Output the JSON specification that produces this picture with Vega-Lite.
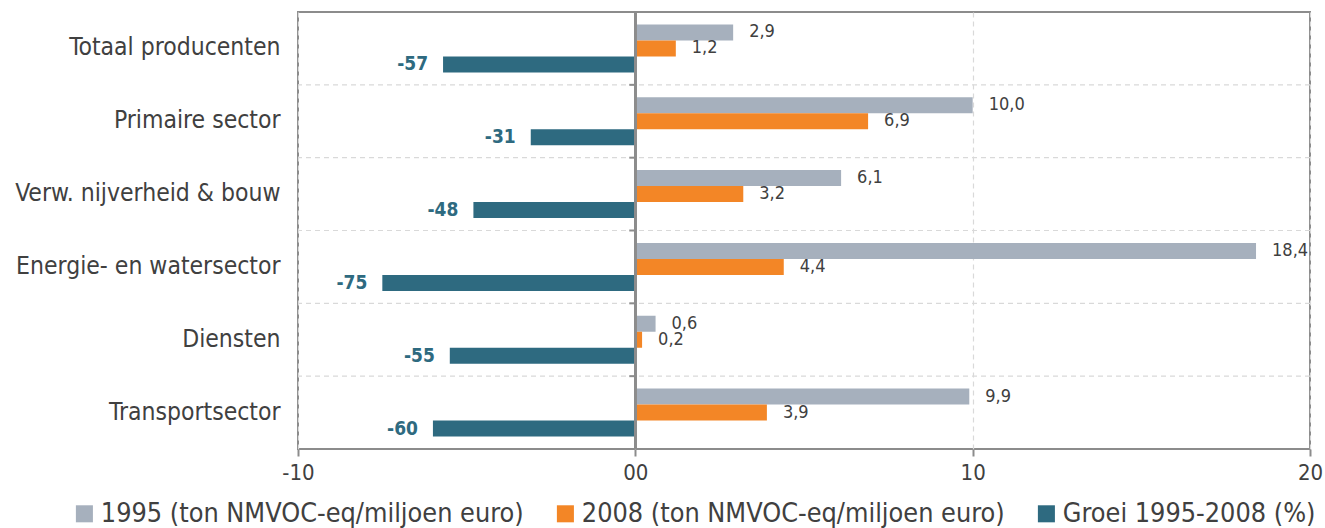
{
  "$schema": "https://vega.github.io/schema/vega-lite/v6.json",
  "autosize": {"type": "none"},
  "padding": {"left": 298, "top": 12, "right": 15, "bottom": 79},
  "width": 1012,
  "height": 437,
  "background": "white",
  "config": {
    "font": "DejaVu Sans Condensed",
    "view": {"stroke": "#8c8c8c", "strokeWidth": 2}
  },
  "data": {
    "values": [
      {"sector": "Totaal producenten", "series": "1995 (ton NMVOC-eq/miljoen euro)", "value": 2.9, "label": "2,9"},
      {"sector": "Totaal producenten", "series": "2008 (ton NMVOC-eq/miljoen euro)", "value": 1.2, "label": "1,2"},
      {"sector": "Totaal producenten", "series": "Groei 1995-2008 (%)", "value": -5.7, "label": "-57"},
      {"sector": "Primaire sector", "series": "1995 (ton NMVOC-eq/miljoen euro)", "value": 10.0, "label": "10,0"},
      {"sector": "Primaire sector", "series": "2008 (ton NMVOC-eq/miljoen euro)", "value": 6.9, "label": "6,9"},
      {"sector": "Primaire sector", "series": "Groei 1995-2008 (%)", "value": -3.1, "label": "-31"},
      {"sector": "Verw. nijverheid & bouw", "series": "1995 (ton NMVOC-eq/miljoen euro)", "value": 6.1, "label": "6,1"},
      {"sector": "Verw. nijverheid & bouw", "series": "2008 (ton NMVOC-eq/miljoen euro)", "value": 3.2, "label": "3,2"},
      {"sector": "Verw. nijverheid & bouw", "series": "Groei 1995-2008 (%)", "value": -4.8, "label": "-48"},
      {"sector": "Energie- en watersector", "series": "1995 (ton NMVOC-eq/miljoen euro)", "value": 18.4, "label": "18,4"},
      {"sector": "Energie- en watersector", "series": "2008 (ton NMVOC-eq/miljoen euro)", "value": 4.4, "label": "4,4"},
      {"sector": "Energie- en watersector", "series": "Groei 1995-2008 (%)", "value": -7.5, "label": "-75"},
      {"sector": "Diensten", "series": "1995 (ton NMVOC-eq/miljoen euro)", "value": 0.6, "label": "0,6"},
      {"sector": "Diensten", "series": "2008 (ton NMVOC-eq/miljoen euro)", "value": 0.2, "label": "0,2"},
      {"sector": "Diensten", "series": "Groei 1995-2008 (%)", "value": -5.5, "label": "-55"},
      {"sector": "Transportsector", "series": "1995 (ton NMVOC-eq/miljoen euro)", "value": 9.9, "label": "9,9"},
      {"sector": "Transportsector", "series": "2008 (ton NMVOC-eq/miljoen euro)", "value": 3.9, "label": "3,9"},
      {"sector": "Transportsector", "series": "Groei 1995-2008 (%)", "value": -6.0, "label": "-60"}
    ]
  },
  "encoding": {
    "y": {
      "field": "sector", "type": "nominal",
      "sort": ["Totaal producenten", "Primaire sector", "Verw. nijverheid & bouw", "Energie- en watersector", "Diensten", "Transportsector"],
      "scale": {"paddingInner": 0, "paddingOuter": 0},
      "axis": {"title": null, "ticks": false, "domain": false, "grid": false, "labelFontSize": 24.5, "labelColor": "#404040", "labelPadding": 18, "labelLimit": 400}
    },
    "x": {
      "field": "value", "type": "quantitative",
      "scale": {"domain": [-10, 20], "nice": false},
      "axis": {
        "title": null, "values": [-10, 0, 10, 20], "domain": false,
        "grid": true, "gridColor": "#d9d9d9", "gridDash": [5, 4], "gridWidth": 1.2,
        "ticks": true, "tickSize": 7, "tickColor": "#8c8c8c", "tickWidth": 2,
        "labelFontSize": 22, "labelColor": "#404040", "labelPadding": 6, "labelFlush": false, "labelOverlap": false,
        "labelExpr": "datum.value < -5 ? '-10' : (datum.value < 5 ? '00' : (datum.value < 15 ? '10' : '20'))"
      }
    }
  },
  "layer": [
    {
      "transform": [{"filter": "datum.sector != 'Totaal producenten' && datum.series == '1995 (ton NMVOC-eq/miljoen euro)'"}],
      "mark": {"type": "rule", "color": "#d9d9d9", "strokeWidth": 1.2, "strokeDash": [5, 4]},
      "encoding": {
        "x": null,
        "y": {"field": "sector", "type": "nominal", "bandPosition": 0, "sort": ["Totaal producenten", "Primaire sector", "Verw. nijverheid & bouw", "Energie- en watersector", "Diensten", "Transportsector"]}
      }
    },
    {
      "mark": {"type": "bar"},
      "encoding": {
        "yOffset": {
          "field": "series", "type": "nominal",
          "sort": ["1995 (ton NMVOC-eq/miljoen euro)", "2008 (ton NMVOC-eq/miljoen euro)", "Groei 1995-2008 (%)"],
          "scale": {"paddingInner": 0, "paddingOuter": 0.775}
        },
        "color": {
          "field": "series", "type": "nominal",
          "scale": {
            "domain": ["1995 (ton NMVOC-eq/miljoen euro)", "2008 (ton NMVOC-eq/miljoen euro)", "Groei 1995-2008 (%)"],
            "range": ["#a6b0bd", "#f38626", "#2e6a80"]
          },
          "legend": {
            "title": null, "orient": "none", "direction": "horizontal", "columns": 3,
            "legendX": -227, "legendY": 488,
            "symbolType": "square", "symbolSize": 290, "symbolStrokeWidth": 0, "symbolOpacity": 1,
            "labelFontSize": 26.8, "labelColor": "#404040", "labelLimit": 600, "labelOffset": 3,
            "columnPadding": 28
          }
        }
      }
    },
    {
      "transform": [{"filter": "datum.series == '1995 (ton NMVOC-eq/miljoen euro)'"}],
      "mark": {"type": "rule", "color": "#8c8c8c", "strokeWidth": 2},
      "encoding": {
        "y": {"field": "sector", "type": "nominal", "bandPosition": 0, "sort": ["Totaal producenten", "Primaire sector", "Verw. nijverheid & bouw", "Energie- en watersector", "Diensten", "Transportsector"]},
        "x": {"datum": -0.18},
        "x2": {"datum": 0}
      }
    },
    {
      "transform": [{"filter": "datum.value > 0"}],
      "mark": {"type": "text", "align": "left", "baseline": "middle", "dx": 16, "fontSize": 18, "color": "#404040"},
      "encoding": {
        "yOffset": {"field": "series", "type": "nominal", "sort": ["1995 (ton NMVOC-eq/miljoen euro)", "2008 (ton NMVOC-eq/miljoen euro)", "Groei 1995-2008 (%)"]},
        "text": {"field": "label"}
      }
    },
    {
      "transform": [{"filter": "datum.value < 0"}],
      "mark": {"type": "text", "align": "right", "baseline": "middle", "dx": -15, "fontSize": 19, "fontWeight": "bold", "color": "#2e6a80"},
      "encoding": {
        "yOffset": {"field": "series", "type": "nominal", "sort": ["1995 (ton NMVOC-eq/miljoen euro)", "2008 (ton NMVOC-eq/miljoen euro)", "Groei 1995-2008 (%)"]},
        "text": {"field": "label"}
      }
    },
    {
      "mark": {"type": "rule", "color": "#8c8c8c", "strokeWidth": 2},
      "encoding": {"x": {"datum": 0}, "y": {"value": 0}, "y2": {"value": 437}}
    }
  ]
}
